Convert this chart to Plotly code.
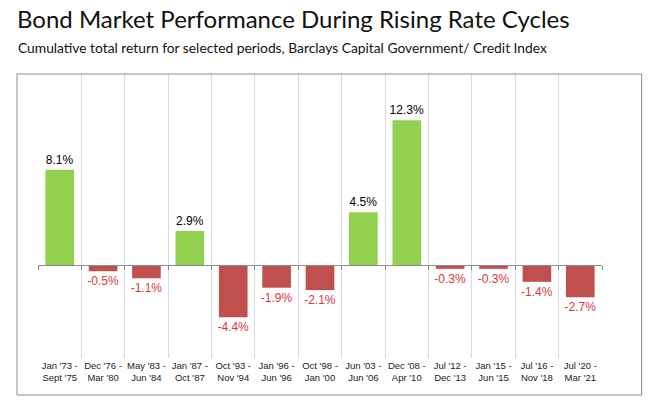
import plotly.graph_objects as go

categories = ["Jan '73 -<br>Sept '75", "Dec '76 -<br>Mar '80", "May '83 -<br>Jun '84",
              "Jan '87 -<br>Oct '87", "Oct '93 -<br>Nov '94", "Jan '96 -<br>Jun '96",
              "Oct '98 -<br>Jan '00", "Jun '03 -<br>Jun '06", "Dec '08 -<br>Apr '10",
              "Jul '12 -<br>Dec '13", "Jan '15 -<br>Jun '15", "Jul '16 -<br>Nov '18",
              "Jul '20 -<br>Mar '21"]
returns = [8.1, -0.5, -1.1, 2.9, -4.4, -1.9, -2.1, 4.5, 12.3, -0.3, -0.3, -1.4, -2.7]

GREEN = "#92D050"
RED = "#C0504D"
RED_TEXT = "#D9363E"

W, H = 656, 416
L, R, T, B = 38, 54, 74, 58
pw = W - L - R
ph = H - T - B

positions = list(range(len(categories)))
colors = [GREEN if v >= 0 else RED for v in returns]
text_colors = ["#000000" if v >= 0 else RED_TEXT for v in returns]
bounds = [p - 0.5 for p in positions] + [len(categories) - 0.5]

fig = go.Figure()
fig.add_trace(go.Bar(
    x=positions, y=returns,
    marker=dict(color=colors, line=dict(width=0)),
    width=0.66,
    text=[f"{v:.1f}%" for v in returns],
    textposition="outside",
    constraintext="none",
    textfont=dict(family="Liberation Sans, Arial", size=12, color=text_colors),
    cliponaxis=False,
    hoverinfo="skip",
))

def px_x(px):
    return (px - L) / pw

def px_y(py):
    return (H - B - py) / ph

zero_pos = px_y(265.3)

fig.update_layout(
    width=W, height=H,
    margin=dict(l=L, r=R, t=T, b=B, autoexpand=False),
    paper_bgcolor="white", plot_bgcolor="white",
    showlegend=False,
    xaxis=dict(
        range=[-0.5, len(categories) - 0.5], autorange=False, automargin=False,
        tickmode="array", tickvals=positions, ticktext=categories,
        tickfont=dict(family="Liberation Sans, Arial", size=9.5, color="#222"),
        ticks="", showgrid=False, zeroline=False, showline=False,
        minor=dict(tickmode="array", tickvals=bounds,
                   showgrid=True, gridcolor="#D9D9D9", gridwidth=1, ticks=""),
        fixedrange=True,
    ),
    xaxis2=dict(
        range=[-0.5, len(categories) - 0.5], autorange=False, automargin=False,
        overlaying="x", anchor="free", position=zero_pos,
        showline=True, linecolor="#8C8C8C", linewidth=1,
        tickmode="array", tickvals=bounds,
        ticks="outside", ticklen=4, tickcolor="#8C8C8C", tickwidth=1,
        showticklabels=False, showgrid=False, zeroline=False,
    ),
    yaxis=dict(
        range=[-(H - B - 265.3) / 11.8, (265.3 - T) / 11.8], autorange=False,
        automargin=False,
        showgrid=False, zeroline=False, showline=False, showticklabels=False,
        fixedrange=True,
    ),
    shapes=[dict(type="rect", xref="paper", yref="paper",
                 x0=px_x(17), x1=px_x(641.7), y0=px_y(395), y1=px_y(74),
                 line=dict(color="#8C8C8C", width=1), fillcolor="rgba(0,0,0,0)",
                 layer="above")],
    annotations=[
        dict(text="Bond Market Performance During Rising Rate Cycles",
             xref="paper", yref="paper", x=px_x(15), y=px_y(19),
             xanchor="left", yanchor="middle", showarrow=False,
             font=dict(family="Lato, Open Sans", size=24, color="#111")),
        dict(text="Cumulative total return for selected periods, Barclays Capital Government/ Credit Index",
             xref="paper", yref="paper", x=px_x(16), y=px_y(47),
             xanchor="left", yanchor="middle", showarrow=False,
             font=dict(family="Lato, Open Sans", size=13.8, color="#111")),
    ],
)
# invisible trace so the zero-line axis is drawn
fig.add_trace(go.Scatter(x=[0], y=[0], xaxis="x2", mode="markers",
                         marker=dict(opacity=0), hoverinfo="skip"))

fig.write_html("out.html", config={"displayModeBar": False},
               post_script="document.body.style.margin='0';document.body.style.overflow='hidden';")
